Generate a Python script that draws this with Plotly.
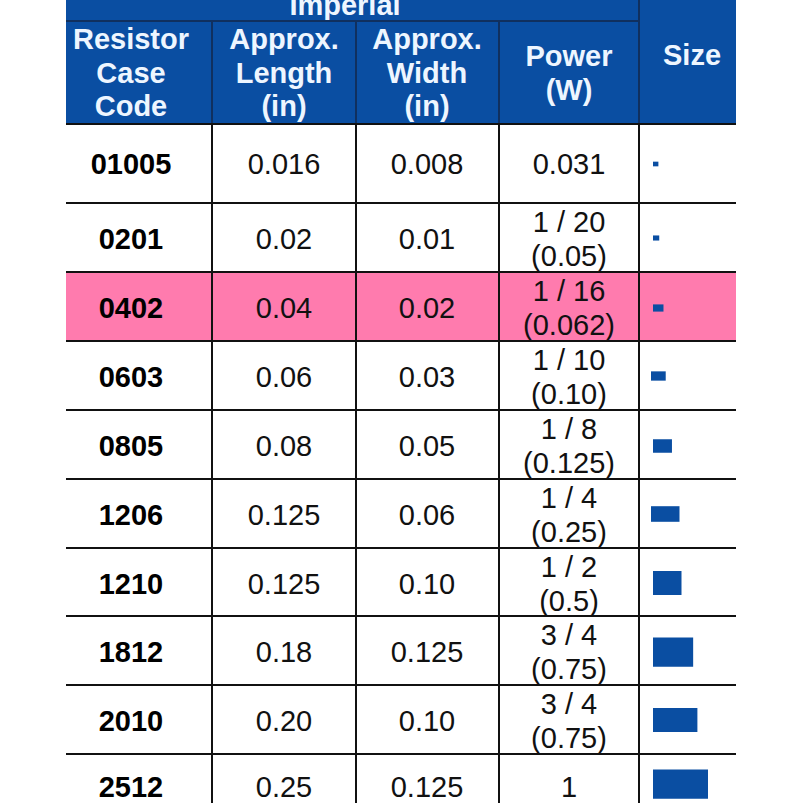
import plotly.graph_objects as go

# table contents
codes = ["01005", "0201", "0402", "0603", "0805", "1206", "1210", "1812", "2010", "2512"]
length_txt = ["0.016", "0.02", "0.04", "0.06", "0.08", "0.125", "0.125", "0.18", "0.20", "0.25"]
width_txt = ["0.008", "0.01", "0.02", "0.03", "0.05", "0.06", "0.10", "0.125", "0.10", "0.125"]
power_txt = ["0.031", "1 / 20|(0.05)", "1 / 16|(0.062)", "1 / 10|(0.10)", "1 / 8|(0.125)",
             "1 / 4|(0.25)", "1 / 2|(0.5)", "3 / 4|(0.75)", "3 / 4|(0.75)", "1"]
length_in = [0.016, 0.02, 0.04, 0.06, 0.08, 0.125, 0.125, 0.18, 0.20, 0.25]
width_in = [0.008, 0.01, 0.02, 0.03, 0.05, 0.06, 0.10, 0.125, 0.10, 0.125]
headers = ["Resistor|Case|Code", "Approx.|Length|(in)", "Approx.|Width|(in)", "Power|(W)", "Size"]

# layout, in picture pixels
col_lines = [212, 356, 499, 639]
col_centers = [131, 284, 427, 569, 692]
row_lines = [124, 203, 272, 341, 410, 479, 548, 616, 685, 754]
row_centers = [164, 239, 308, 377, 446, 515, 584, 652, 721, 787]
bar_centers = [164, 238, 308, 376, 446, 514, 583, 652, 720, 784]
bar_left = [653, 653, 653, 651, 653, 651, 653, 653, 653, 653]
BLUE = "#0a4ea2"
PINK = "#ff7bae"
FONT = "Liberation Sans"
SIZE = 29
TEXT_SHIFT = 2.5


def split_cell(x, y, text, step):
    """一个单元格拆成多行，每行单独定位"""
    parts = text.split("|")
    top = y + TEXT_SHIFT - step * (len(parts) - 1) / 2
    return [x] * len(parts), [top + i * step for i in range(len(parts))], parts


fig = go.Figure()

# 背景色块
fig.add_shape(type="rect", x0=66, x1=736, y0=-5, y1=124, fillcolor=BLUE, line_width=0, layer="below")
fig.add_shape(type="rect", x0=66, x1=736, y0=272, y1=341, fillcolor=PINK, line_width=0, layer="below")

# 网格线
fig.add_shape(type="line", x0=66, x1=639, y0=21, y1=21, line=dict(color="#10305f", width=2))
fig.add_shape(type="line", x0=639, x1=639, y0=-5, y1=124, line=dict(color="#10305f", width=2))
for x in col_lines[:3]:
    fig.add_shape(type="line", x0=x, x1=x, y0=21, y1=124, line=dict(color="#10305f", width=2))
for x in col_lines:
    fig.add_shape(type="line", x0=x, x1=x, y0=124, y1=810, line=dict(color="#111111", width=2))
for y in row_lines:
    fig.add_shape(type="line", x0=66, x1=736, y0=y, y1=y, line=dict(color="#111111", width=2))

# 尺寸示意
fig.add_trace(go.Bar(
    y=bar_centers,
    x=[212 * v + 2 for v in length_in],
    base=bar_left,
    width=[210 * v + 3 for v in width_in],
    orientation="h",
    marker=dict(color=BLUE, line_width=0),
    hoverinfo="skip",
))

# 表头文字
hx, hy, ht = split_cell(345, 5, "Imperial", 33.5)
for cx, text, y in zip(col_centers, headers, [73, 73, 73, 73, 55]):
    a, b, c = split_cell(cx, y, text, 33.5)
    hx += a
    hy += b
    ht += c
fig.add_trace(go.Scatter(x=hx, y=hy, text=ht, mode="text", textposition="middle center",
                         textfont=dict(family=FONT, size=SIZE, color="#eef6ff", weight="bold"),
                         hoverinfo="skip", cliponaxis=False))

# 第一列加粗
fig.add_trace(go.Scatter(x=[col_centers[0]] * len(codes), y=[y + TEXT_SHIFT for y in row_centers],
                         text=codes, mode="text", textposition="middle center",
                         textfont=dict(family=FONT, size=SIZE, color="#000000", weight="bold"),
                         hoverinfo="skip", cliponaxis=False))

# 其余数值列
tx, ty, tt = [], [], []
for i, yc in enumerate(row_centers):
    for cx, text in zip(col_centers[1:4], [length_txt[i], width_txt[i], power_txt[i]]):
        a, b, c = split_cell(cx, yc, text, 34)
        tx += a
        ty += b
        tt += c
fig.add_trace(go.Scatter(x=tx, y=ty, text=tt, mode="text", textposition="middle center",
                         textfont=dict(family=FONT, size=SIZE, color="#111111"),
                         hoverinfo="skip", cliponaxis=False))

fig.update_layout(
    width=803, height=803,
    margin=dict(l=0, r=0, t=0, b=0),
    paper_bgcolor="white", plot_bgcolor="white",
    showlegend=False,
    xaxis=dict(range=[0, 803], visible=False, fixedrange=True),
    yaxis=dict(range=[803, 0], visible=False, fixedrange=True),
)

# 去掉页面默认边距
fig.write_html("out.html", config={"displayModeBar": False},
               post_script="document.body.style.margin='0';document.body.style.overflow='hidden';")
